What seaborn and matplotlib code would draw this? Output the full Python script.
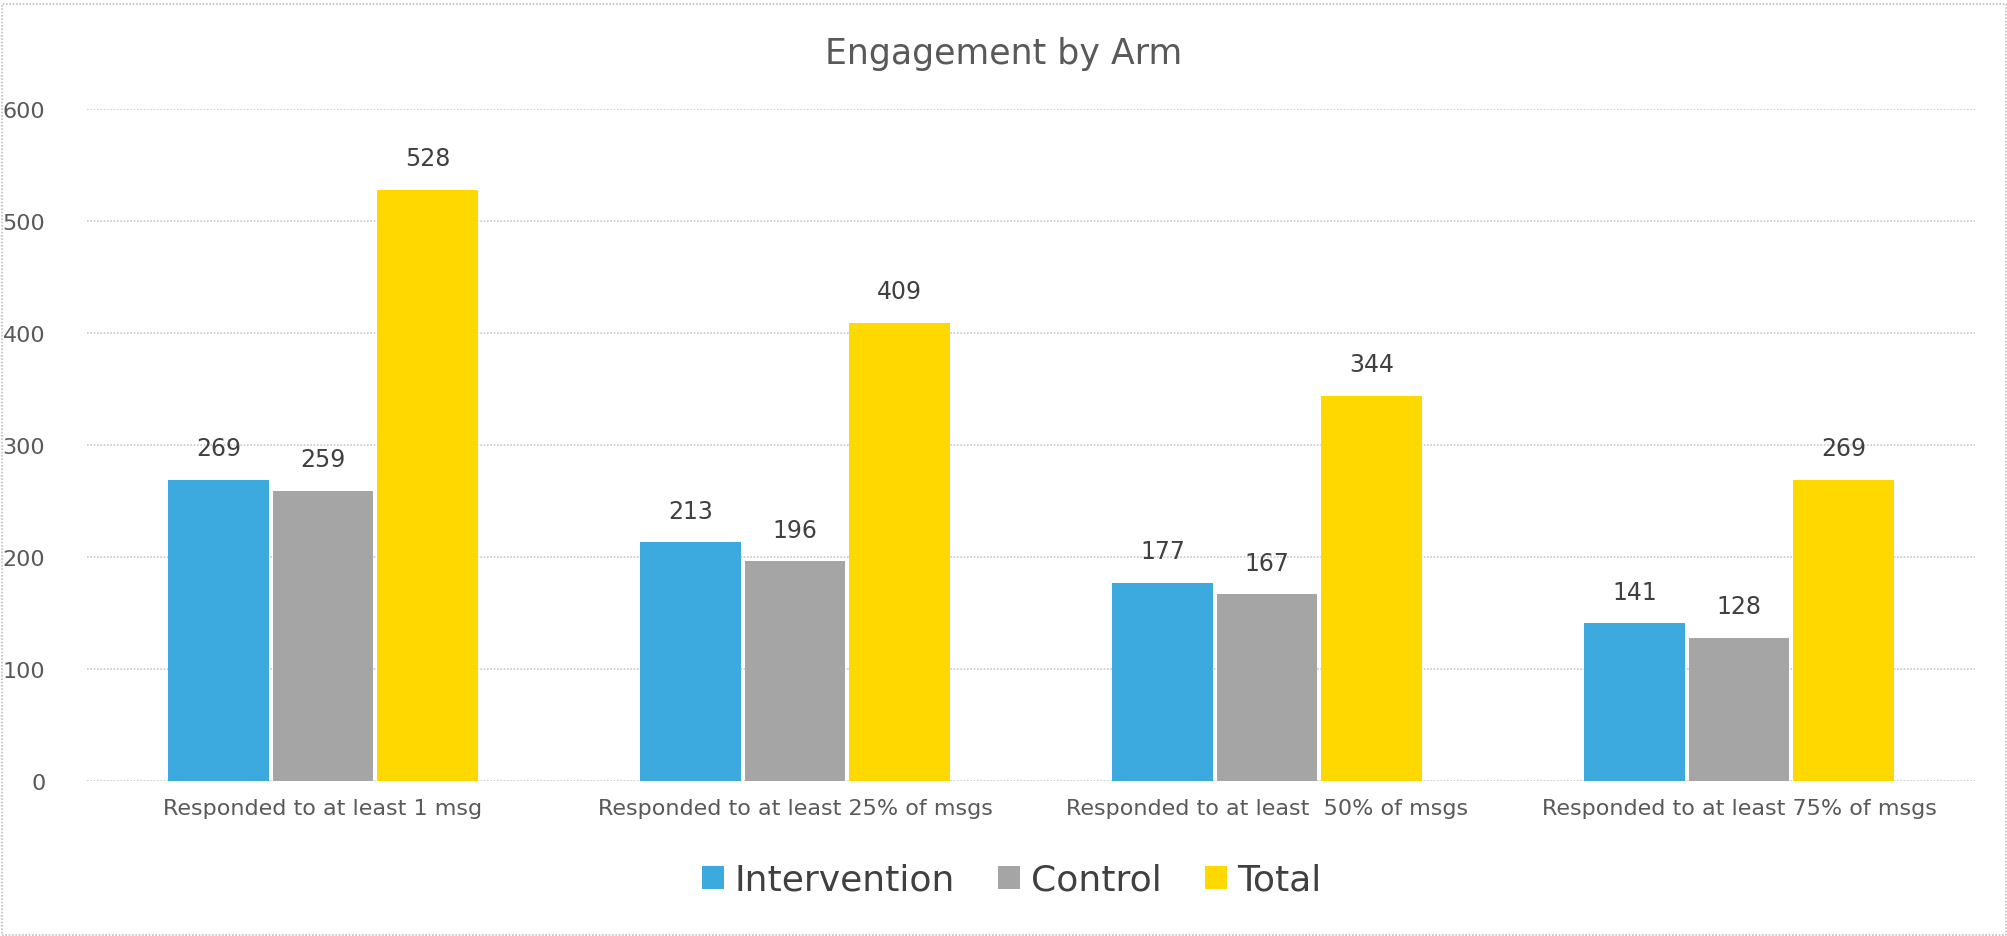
import pandas as pd
import matplotlib.pyplot as plt
import seaborn as sns

## data
categories = ["Responded to at least 1 msg", "Responded to at least 25% of msgs",
              "Responded to at least  50% of msgs", "Responded to at least 75% of msgs"]
intervention = [269, 213, 177, 141]
control = [259, 196, 167, 128]
total = [528, 409, 344, 269]
arms = ["Intervention", "Control", "Total"]
colors = ["#3CA9DF", "#A5A5A5", "#FFD800"]

dtf = pd.DataFrame({
    "category": categories * 3,
    "arm": [a for a in arms for _ in categories],
    "value": intervention + control + total,
})

sns.set_theme(style="white")
plt.rcParams['font.family'] = ['Liberation Sans Narrow', 'DejaVu Sans']

fig = plt.figure(figsize=(20.08, 9.37), dpi=100)
ax = fig.add_axes([0.0433, 0.1654, 0.9403, 0.7172])

sns.barplot(data=dtf, x="category", y="value", hue="arm", hue_order=arms,
            palette=colors, width=0.665, gap=0.04, saturation=1, ax=ax,
            edgecolor="none", legend=True)

for c in ax.containers:
    ax.bar_label(c, padding=14, fontsize=17, color="#404040")

ax.set_ylim(0, 600)
ax.set_xlim(-0.5, 3.5)
ax.set_yticks(range(0, 601, 100))
ax.grid(axis="y", color="#C8C8C8", linestyle=(0, (1, 1)), linewidth=1.2)
ax.set_axisbelow(True)
sns.despine(ax=ax, left=True, bottom=True, top=True, right=True)
ax.set(xlabel=None, ylabel=None)
ax.tick_params(axis="y", labelsize=16, labelcolor="#595959", pad=30, length=0)
ax.tick_params(axis="x", labelsize=16, labelcolor="#595959", pad=12, length=0)

fig.suptitle("Engagement by Arm", y=0.96, fontsize=25, color="#595959")

handles, labels = ax.get_legend_handles_labels()
ax.legend(handles, labels, loc="center", bbox_to_anchor=(0.504, 0.06),
          bbox_transform=fig.transFigure, ncol=3, frameon=False,
          fontsize=26, labelcolor="#404040", handlelength=0.6, handleheight=0.6,
          handletextpad=0.3, columnspacing=1.2)

fig.patches.append(plt.Rectangle((0.001, 0.001), 0.998, 0.994, transform=fig.transFigure,
                                 fill=False, edgecolor="#BFBFBF", linestyle=(0, (1, 1)), lw=1.2))

plt.savefig("out.png", dpi=100)
